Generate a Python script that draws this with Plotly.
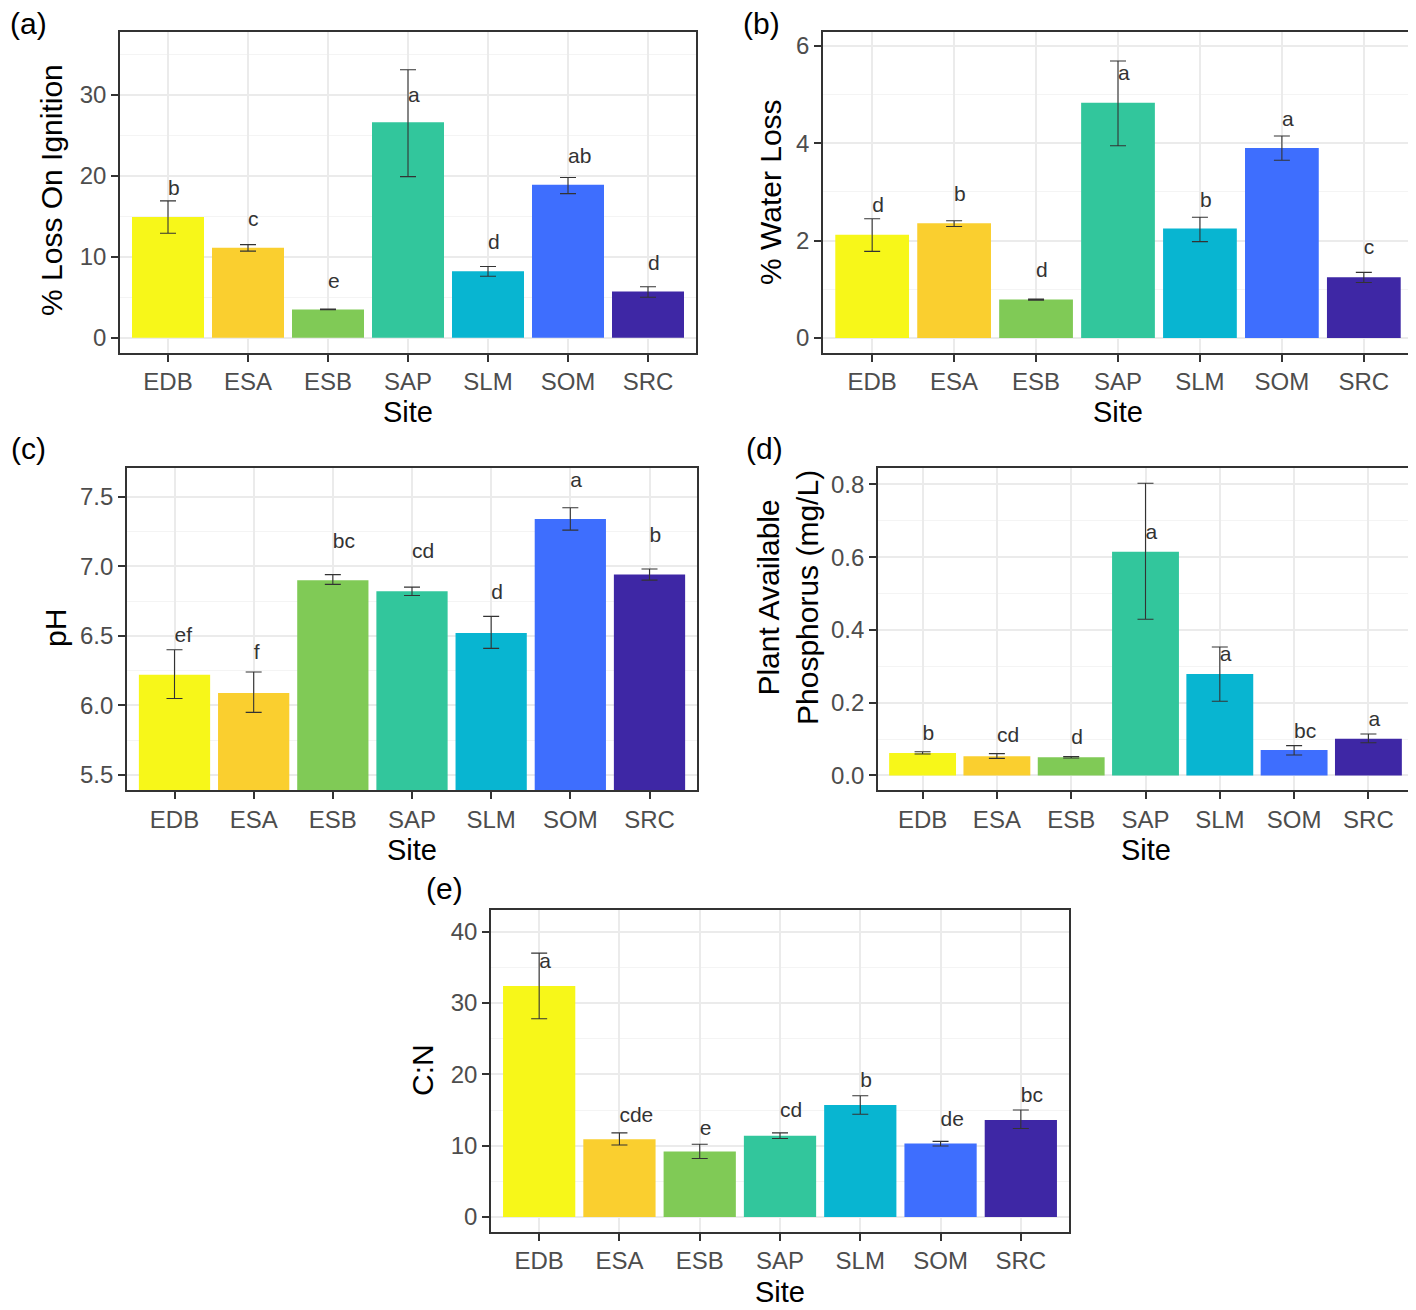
import plotly.graph_objects as go

W, H = 1416, 1310
OFF = 8  # page body margin compensation

sites = ["EDB", "ESA", "ESB", "SAP", "SLM", "SOM", "SRC"]
bar_colors = ["#F7F719", "#FACF2F", "#80CA56", "#32C69C", "#08B5D1", "#3E6EFE", "#3E27A5"]

# (a) % Loss On Ignition
loi_mean = [14.9, 11.1, 3.5, 26.6, 8.2, 18.9, 5.7]
loi_upper = [16.9, 11.5, 3.55, 33.1, 8.8, 19.8, 6.3]
loi_lower = [12.9, 10.7, 3.45, 19.9, 7.6, 17.8, 5.0]
loi_letters = ["b", "c", "e", "a", "d", "ab", "d"]
loi_label_y = [18.3, 14.5, 6.8, 29.8, 11.6, 22.2, 9.0]

# (b) % Water Loss
water_mean = [2.12, 2.36, 0.79, 4.83, 2.25, 3.90, 1.25]
water_upper = [2.45, 2.41, 0.80, 5.69, 2.48, 4.15, 1.35]
water_lower = [1.78, 2.29, 0.78, 3.95, 1.98, 3.65, 1.14]
water_letters = ["d", "b", "d", "a", "b", "a", "c"]
water_label_y = [2.69, 2.92, 1.37, 5.40, 2.80, 4.47, 1.83]

# (c) pH
ph_mean = [6.22, 6.09, 6.90, 6.82, 6.52, 7.34, 6.94]
ph_upper = [6.40, 6.24, 6.94, 6.85, 6.64, 7.42, 6.98]
ph_lower = [6.05, 5.95, 6.87, 6.79, 6.41, 7.26, 6.90]
ph_letters = ["ef", "f", "bc", "cd", "d", "a", "b"]
ph_label_y = [6.49, 6.37, 7.17, 7.10, 6.80, 7.61, 7.21]

# (d) Plant available phosphorus
p_mean = [0.062, 0.053, 0.050, 0.615, 0.279, 0.070, 0.101]
p_upper = [0.065, 0.060, 0.052, 0.803, 0.353, 0.082, 0.114]
p_lower = [0.059, 0.047, 0.048, 0.429, 0.204, 0.056, 0.090]
p_letters = ["b", "cd", "d", "a", "a", "bc", "a"]
p_label_y = [0.111, 0.106, 0.102, 0.665, 0.329, 0.118, 0.150]

# (e) C:N
cn_mean = [32.4, 10.9, 9.2, 11.4, 15.7, 10.3, 13.6]
cn_upper = [37.0, 11.8, 10.2, 11.8, 17.0, 10.6, 15.0]
cn_lower = [27.8, 10.1, 8.2, 11.0, 14.4, 9.95, 12.4]
cn_letters = ["a", "cde", "e", "cd", "b", "de", "bc"]
cn_label_y = [35.6, 14.1, 12.3, 14.7, 18.9, 13.5, 16.9]

FONT = "Liberation Sans, Arial, sans-serif"

# panel geometry in page pixels: (left, right, top, bottom)
panels = [
    dict(key="a", mean=loi_mean, up=loi_upper, lo=loi_lower, let=loi_letters, ly=loi_label_y,
         box=(120, 696, 31.7, 352.7), yrange=[-1.85, 37.8], ytick=[0, 10, 20, 30],
         yminor=[5, 15, 25, 35], fmt="d", ytitle="% Loss On Ignition", ytx=52, yty=190,
         sx=408, sy=412, lx=28, ly_=24),
    dict(key="b", mean=water_mean, up=water_upper, lo=water_lower, let=water_letters, ly=water_label_y,
         box=(823, 1413, 31.7, 352.7), yrange=[-0.30, 6.29], ytick=[0, 2, 4, 6],
         yminor=[1, 3, 5], fmt="d", ytitle="% Water Loss", ytx=770, yty=192,
         sx=1118, sy=412, lx=762, ly_=24),
    dict(key="c", mean=ph_mean, up=ph_upper, lo=ph_lower, let=ph_letters, ly=ph_label_y,
         box=(127, 697, 468.3, 790), yrange=[5.392, 7.704], ytick=[5.5, 6.0, 6.5, 7.0, 7.5],
         yminor=[5.75, 6.25, 6.75, 7.25], fmt=".1f", ytitle="pH", ytx=55, yty=628,
         sx=412, sy=850, lx=28, ly_=449),
    dict(key="d", mean=p_mean, up=p_upper, lo=p_lower, let=p_letters, ly=p_label_y,
         box=(878, 1413, 468.3, 790), yrange=[-0.040, 0.844], ytick=[0.0, 0.2, 0.4, 0.6, 0.8],
         yminor=[0.1, 0.3, 0.5, 0.7], fmt=".1f", ytitle="Plant Available<br>Phosphorus (mg/L)",
         ytx=788, yty=598, sx=1146, sy=850, lx=764, ly_=449),
    dict(key="e", mean=cn_mean, up=cn_upper, lo=cn_lower, let=cn_letters, ly=cn_label_y,
         box=(491, 1069, 910, 1231.7), yrange=[-2.06, 43.04], ytick=[0, 10, 20, 30, 40],
         yminor=[5, 15, 25, 35], fmt="d", ytitle="C:N", ytx=422, yty=1070,
         sx=780, sy=1292, lx=445, ly_=888),
]


def fx(px):
    return (px - OFF) / W


def fy(py):
    return 1 - (py - OFF) / H


fig = go.Figure()
layout = dict(
    width=W, height=H, margin=dict(l=0, r=0, t=0, b=0),
    paper_bgcolor="white", plot_bgcolor="white", showlegend=False,
    font=dict(family=FONT, color="#000000"),
)
annotations = []

for i, p in enumerate(panels):
    n = i + 1
    xa = "x" if n == 1 else f"x{n}"
    ya = "y" if n == 1 else f"y{n}"
    plus = [u - m for u, m in zip(p["up"], p["mean"])]
    minus = [m - l for m, l in zip(p["mean"], p["lo"])]
    fig.add_trace(go.Bar(
        x=sites, y=p["mean"], xaxis=xa, yaxis=ya, width=0.9,
        marker=dict(color=bar_colors, line=dict(width=0)),
        error_y=dict(type="data", array=plus, arrayminus=minus, visible=True,
                     color="#333333", thickness=1.1, width=8),
        hoverinfo="x+y",
    ))
    fig.add_trace(go.Scatter(
        x=sites, y=p["ly"], xaxis=xa, yaxis=ya, mode="text", text=p["let"],
        textposition="middle right", cliponaxis=False,
        textfont=dict(family=FONT, size=21, color="#333333"), hoverinfo="skip",
    ))
    l, r, t, b = p["box"]
    xk = "xaxis" if n == 1 else f"xaxis{n}"
    yk = "yaxis" if n == 1 else f"yaxis{n}"
    layout[xk] = dict(
        domain=[fx(l), fx(r)], anchor=ya, type="category", range=[-0.6, 6.6],
        showline=True, mirror=True, linecolor="#333333", linewidth=1.6,
        ticks="outside", ticklen=7, tickwidth=1.5, tickcolor="#333333",
        tickfont=dict(family=FONT, size=24, color="#4D4D4D"),
        showgrid=True, gridcolor="#EBEBEB", gridwidth=1.5, zeroline=False,
        fixedrange=True,
    )
    layout[yk] = dict(
        domain=[fy(b), fy(t)], anchor=xa, range=p["yrange"],
        tickmode="array", tickvals=p["ytick"], tickformat=p["fmt"],
        showline=True, mirror=True, linecolor="#333333", linewidth=1.6,
        ticks="outside", ticklen=7, tickwidth=1.5, tickcolor="#333333",
        tickfont=dict(family=FONT, size=24, color="#4D4D4D"),
        showgrid=True, gridcolor="#EBEBEB", gridwidth=1.5, zeroline=False,
        minor=dict(tickmode="array", tickvals=p["yminor"], showgrid=True,
                   gridcolor="#F4F4F4", gridwidth=1, ticks=""),
        fixedrange=True,
    )
    annotations.append(dict(
        text=p["ytitle"], x=fx(p["ytx"]), y=fy(p["yty"]), xref="paper", yref="paper",
        xanchor="center", yanchor="middle", textangle=-90, showarrow=False,
        font=dict(family=FONT, size=30, color="#000000"),
    ))
    annotations.append(dict(
        text="Site", x=fx(p["sx"]), y=fy(p["sy"]), xref="paper", yref="paper",
        xanchor="center", yanchor="middle", showarrow=False, borderpad=0,
        font=dict(family=FONT, size=29, color="#000000"),
    ))
    annotations.append(dict(
        text=f"({p['key']})", x=fx(p["lx"]), y=fy(p["ly_"]), xref="paper", yref="paper",
        xanchor="center", yanchor="middle", showarrow=False,
        font=dict(family=FONT, size=30, color="#000000"),
    ))

layout["annotations"] = annotations
fig.update_layout(**layout)
fig.write_html("out.html")
